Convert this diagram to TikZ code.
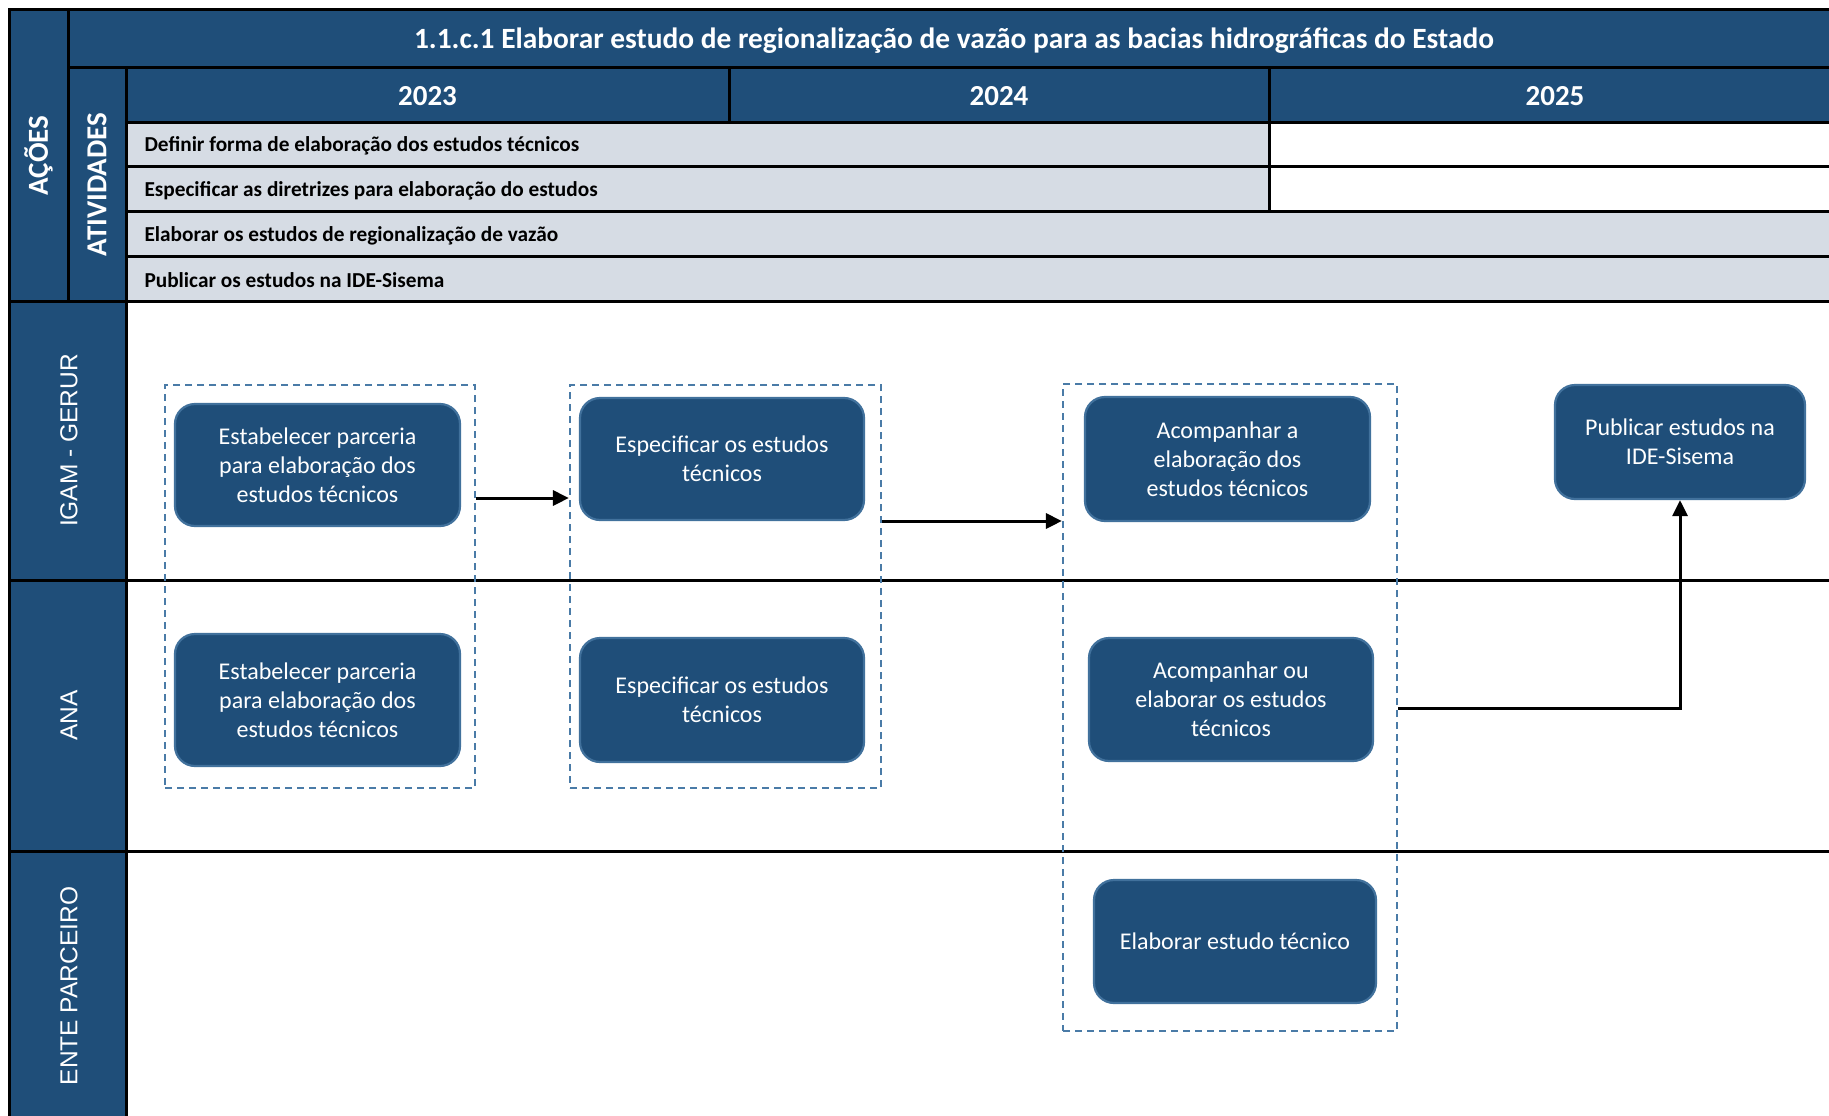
\documentclass[tikz,border=0pt]{standalone}
\usepackage{fontspec}
\setmainfont{Carlito}
\newfontfamily\lanefont{Liberation Sans}
\usetikzlibrary{arrows.meta}
\definecolor{navy}{HTML}{1F4E79}
\definecolor{rowgrey}{HTML}{D6DCE4}
\definecolor{boxedge}{HTML}{41719C}
\definecolor{dashblue}{HTML}{4A7BA7}
\begin{document}
\begin{tikzpicture}[x=1pt,y=-1pt,
  gridline/.style={line width=3pt, black},
  flowbox/.style={draw=boxedge, line width=2.2pt, fill=navy, rounded corners=20pt, text=white, align=center, font=\fontsize{24}{29}\selectfont, inner sep=0pt},
  group/.style={draw=dashblue, line width=2.2pt, dash pattern=on 7pt off 5pt, inner sep=0pt},
  arr/.style={line width=3pt, -{Triangle[length=16pt,width=15pt]}},
  hdr/.style={text=white, font=\bfseries\fontsize{29.4}{33}\selectfont},
  yearlbl/.style={text=white, font=\bfseries\fontsize{29}{33}\selectfont},
  act/.style={anchor=west, font=\bfseries\fontsize{21.3}{24}\selectfont},
  lane/.style={rotate=90, text=white, font=\lanefont\fontsize{24.5}{28}\selectfont},
  vhdr/.style={rotate=90, text=white, font=\bfseries\fontsize{29}{33}\selectfont}]
\useasboundingbox (0,0) rectangle (1829,1116);
\clip (0,0) rectangle (1829,1116);
\fill[white] (0,0) rectangle (1829,1116);
% header fills
\fill[navy] (9,10) rectangle (1845,122);
\fill[navy] (9,10) rectangle (126,1125);
\fill[rowgrey] (126,122) rectangle (1269,211);
\fill[rowgrey] (126,211) rectangle (1845,301);
% grid lines
\draw[gridline] (9,1125) -- (9,10) -- (1845,10);
\draw[gridline] (68,68) -- (1845,68);
\draw[gridline] (68,10) -- (68,301);
\draw[gridline] (126,68) -- (126,1125);
\draw[gridline] (729,68) -- (729,122);
\draw[gridline] (1269,68) -- (1269,211);
\draw[gridline] (126,122) -- (1845,122);
\draw[gridline] (126,166) -- (1845,166);
\draw[gridline] (126,211) -- (1845,211);
\draw[gridline] (126,256) -- (1845,256);
\draw[gridline] (9,301) -- (1845,301);
\draw[gridline] (9,580) -- (1845,580);
\draw[gridline] (9,851) -- (1845,851);
% header texts
\node[hdr] (title) at (954,41) {1.1.c.1 Elaborar estudo de regionalização de vazão para as bacias hidrográficas do Estado};
\node[yearlbl] (y23) at (427.5,96) {2023};
\node[yearlbl] (y24) at (999,96) {2024};
\node[yearlbl] (y25) at (1555,96) {2025};
\node[vhdr] (acoes) at (38.5,155.5) {AÇÕES};
\node[vhdr] (ativ) at (97,184.5) {ATIVIDADES};
\node[act] (a1) at (141,146) {Definir forma de elaboração dos estudos técnicos};
\node[act] (a2) at (141,190.5) {Especificar as diretrizes para elaboração do estudos};
\node[act] (a3) at (141,235.5) {Elaborar os estudos de regionalização de vazão};
\node[act] (a4) at (141,280.5) {Publicar os estudos na IDE-Sisema};
% lane labels
\node[lane] (l1) at (69,440.5) {IGAM - GERUR};
\node[lane] (l2) at (69,715.5) {ANA};
\node[lane] (l3) at (69,986) {ENTE PARCEIRO};
% groups
\node[group, minimum width=310pt, minimum height=403pt] (g1) at (320,586.5) {};
\node[group, minimum width=311pt, minimum height=403pt] (g2) at (725.5,586.5) {};
\node[group, minimum width=334pt, minimum height=647pt] (g3) at (1230,707.5) {};
% boxes
\node[flowbox, minimum width=285pt, minimum height=122pt] (e1) at (317.5,465) {Estabelecer parceria\\para elaboração dos\\estudos técnicos};
\node[flowbox, minimum width=285pt, minimum height=132pt] (e2) at (317.5,700) {Estabelecer parceria\\para elaboração dos\\estudos técnicos};
\node[flowbox, minimum width=284pt, minimum height=122pt] (s1) at (722,459) {Especificar os estudos\\técnicos};
\node[flowbox, minimum width=284pt, minimum height=124pt] (s2) at (722,700) {Especificar os estudos\\técnicos};
\node[flowbox, minimum width=285pt, minimum height=124pt] (c1) at (1227.5,459) {Acompanhar a\\elaboração dos\\estudos técnicos};
\node[flowbox, minimum width=284pt, minimum height=123pt] (c2) at (1231,699.5) {Acompanhar ou\\elaborar os estudos\\técnicos};
\node[flowbox, minimum width=282pt, minimum height=123pt] (c3) at (1235,941.5) {Elaborar estudo técnico};
\node[flowbox, minimum width=250pt, minimum height=114pt] (pub) at (1680,442) {Publicar estudos na\\IDE-Sisema};
% connectors
\draw[arr] (g1.east |- 0,498) -- (g2.west |- 0,498);
\draw[arr] (g2.east |- 0,521) -- (g3.west |- 0,521);
\draw[arr] (g3.east |- 0,708) -| (pub.south);
\end{tikzpicture}
\end{document}
